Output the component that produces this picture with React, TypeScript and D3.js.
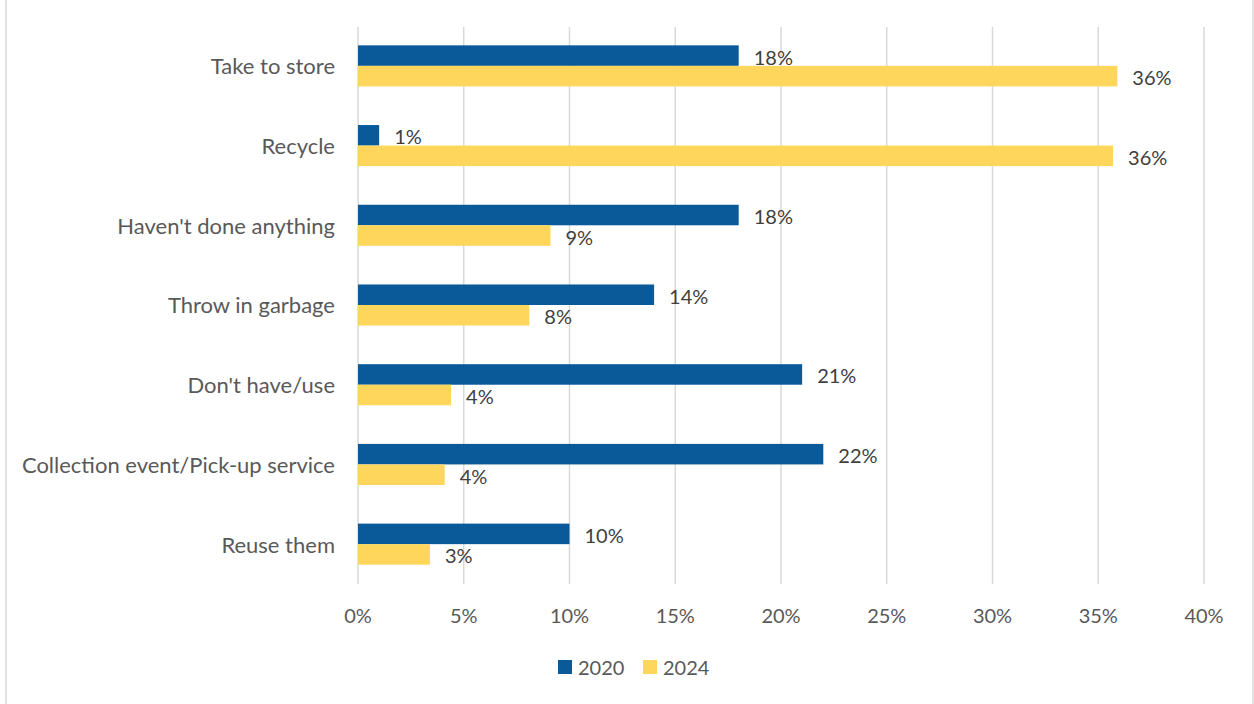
import * as d3 from "d3";

// Chart data
const categories = [
  "Take to store",
  "Recycle",
  "Haven't done anything",
  "Throw in garbage",
  "Don't have/use",
  "Collection event/Pick-up service",
  "Reuse them",
];
const seriesNames = ["2020", "2024"];
const values2020 = [0.18, 0.01, 0.18, 0.14, 0.21, 0.22, 0.1];
const values2024 = [0.359, 0.357, 0.091, 0.081, 0.044, 0.041, 0.034];
const xTicks = [0, 0.05, 0.1, 0.15, 0.2, 0.25, 0.3, 0.35, 0.4];

const WIDTH = 1254;
const HEIGHT = 704;
const COLORS = ["#0A5A9A", "#FFD65C"];
const FONT = "Lato, 'Open Sans', sans-serif";
const TEXT = "#595959";

export default function App() {
  const x = d3.scaleLinear().domain([0, 0.4]).range([358, 1204]);
  const y = d3
    .scaleBand<string>()
    .domain(categories)
    .range([26, 584])
    .paddingInner(0.485)
    .paddingOuter(0.2425);
  const sub = d3
    .scaleBand<string>()
    .domain(seriesNames)
    .range([0, y.bandwidth()]);
  const series = [values2020, values2024];
  const pct = d3.format(".0%");

  return (
    <svg
      width={WIDTH}
      height={HEIGHT}
      style={{ position: "absolute", left: 0, top: 0, background: "#fff" }}
      fontFamily={FONT}
    >
      {/* chart frame, only the sides show */}
      <line x1={6} x2={6} y1={0} y2={HEIGHT} stroke="#D9D9D9" strokeWidth={1.5} />
      <line x1={1253} x2={1253} y1={0} y2={HEIGHT} stroke="#D9D9D9" strokeWidth={1.5} />

      {/* gridlines */}
      {xTicks.map((t) => (
        <line
          key={t}
          x1={x(t)}
          x2={x(t)}
          y1={27}
          y2={584}
          stroke="#D9D9D9"
          strokeWidth={1.5}
        />
      ))}

      {/* bars + labels */}
      {categories.map((c, i) => (
        <g key={c} transform={`translate(0, ${y(c)})`}>
          {seriesNames.map((s, j) => {
            const v = series[j][i];
            const by = sub(s) ?? 0;
            return (
              <g key={s}>
                <rect
                  x={x(0)}
                  y={by}
                  width={x(v) - x(0)}
                  height={sub.bandwidth()}
                  fill={COLORS[j]}
                />
                <text
                  x={x(v) + 15}
                  y={by + sub.bandwidth() / 2 + 1}
                  dominantBaseline="central"
                  fontSize={20}
                  fill="#404040"
                >
                  {pct(v)}
                </text>
              </g>
            );
          })}
          <text
            x={335}
            y={y.bandwidth() / 2}
            textAnchor="end"
            dominantBaseline="central"
            fontSize={22}
            fill={TEXT}
          >
            {c}
          </text>
        </g>
      ))}

      {/* x tick labels */}
      {xTicks.map((t) => (
        <text
          key={t}
          x={x(t)}
          y={615}
          textAnchor="middle"
          dominantBaseline="central"
          fontSize={20}
          fill={TEXT}
        >
          {pct(t)}
        </text>
      ))}

      {/* legend */}
      {seriesNames.map((s, j) => (
        <g key={s} transform={`translate(${558 + j * 85}, 660)`}>
          <rect width={14} height={14} fill={COLORS[j]} />
          <text x={20} y={7} dominantBaseline="central" fontSize={20} fill={TEXT}>
            {s}
          </text>
        </g>
      ))}
    </svg>
  );
}
